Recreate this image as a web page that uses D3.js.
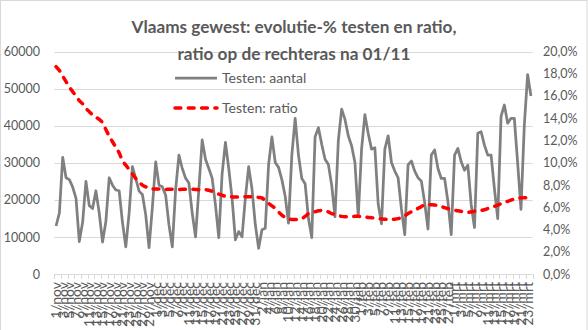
<!DOCTYPE html>
<html>
<head>
<meta charset="utf-8">
<script src="https://cdn.jsdelivr.net/npm/d3@7"></script>
<style>
  html, body { margin: 0; padding: 0; background: #fff; }
  svg { display: block; font-family: Lato, "Open Sans", sans-serif; }
</style>
</head>
<body>
<svg id="chart" width="588" height="330"></svg>
<script>
// Daily test counts for the Flemish region (left axis) and the positivity ratio in % (right axis)
const monthNames = ["jan", "feb", "mrt", "apr", "mei", "jun", "jul", "aug", "sep", "okt", "nov", "dec"];
const firstDay = new Date(2020, 10, 1);
const dayAfterLast = new Date(2021, 2, 25);

const testCounts = [
  13000, 16500, 31500, 26000, 25500, 23500, 20500, 8800, 14000, 25000,
  18500, 17700, 22500, 16500, 8700, 14200, 26000, 24000, 22700, 22500,
  14000, 7400, 16500, 29000, 25800, 22400, 21500, 16000, 7200, 18000,
  30300, 24000, 23600, 21300, 13300, 7400, 22700, 32100, 28500, 25900,
  24600, 16500, 10100, 22900, 36200, 31000, 28500, 25900, 18700, 9900,
  27000, 35500, 28500, 20500, 9300, 11500, 10100, 20500, 29000, 23000,
  13400, 7000, 12000, 12400, 29500, 37000, 30100, 28800, 25500, 21000,
  13800, 32100, 42000, 32100, 25800, 24400, 15000, 9900, 37000, 39500,
  35000, 31000, 29600, 24000, 15500, 36000, 44500, 41700, 37300, 34600,
  30100, 15500, 33700, 43000, 37900, 33700, 34100, 19000, 13600, 33700,
  37300, 30100, 27800, 26000, 17600, 10700, 29500, 30500, 27800, 26000,
  25100, 19300, 12200, 32100, 33500, 28500, 25800, 25800, 19600, 10700,
  32100, 33900, 30300, 28000, 29400, 18800, 12600, 38000, 38400, 34800,
  32100, 32100, 23100, 15000, 42500, 45600, 40700, 42000, 42000, 30000,
  17500, 40000, 53800, 48000
];

const ratioPct = [
  18.64, 18.3, 17.8, 17.3, 16.8, 16.4, 16.0, 15.6, 15.3, 14.9,
  14.6, 14.3, 14.1, 13.9, 13.6, 13.0, 12.4, 11.9, 11.4, 10.9,
  10.2, 9.8, 9.4, 9.0, 8.6, 8.3, 8.0, 7.85, 7.7, 7.65,
  7.65, 7.66, 7.64, 7.62, 7.63, 7.63, 7.6, 7.62, 7.63, 7.63,
  7.64, 7.63, 7.62, 7.6, 7.6, 7.6, 7.55, 7.45, 7.3, 7.2,
  7.1, 7.0, 6.97, 6.95, 6.95, 6.95, 6.95, 6.96, 6.97, 6.97,
  6.95, 6.9, 6.85, 6.6, 6.37, 6.15, 5.92, 5.6, 5.32, 5.1,
  4.96, 4.93, 4.92, 4.95, 5.0, 5.2, 5.45, 5.55, 5.62, 5.7,
  5.74, 5.7, 5.6, 5.45, 5.38, 5.28, 5.2, 5.17, 5.17, 5.18,
  5.2, 5.2, 5.18, 5.15, 5.1, 5.08, 5.04, 5.0, 4.96, 4.94,
  4.93, 4.93, 4.95, 5.0, 5.1, 5.25, 5.45, 5.62, 5.75, 5.92,
  6.08, 6.22, 6.25, 6.24, 6.22, 6.18, 6.1, 5.98, 5.9, 5.8,
  5.75, 5.71, 5.65, 5.6, 5.56, 5.6, 5.65, 5.7, 5.74, 5.8,
  5.9, 5.98, 6.1, 6.2, 6.35, 6.46, 6.55, 6.65, 6.76, 6.82,
  6.86, 6.88, 6.88, 6.9
];

const leftTicks = [0, 10000, 20000, 30000, 40000, 50000, 60000];
const rightTicks = [0, 2, 4, 6, 8, 10, 12, 14, 16, 18, 20];
const titleLines = ["Vlaams gewest: evolutie-% testen en ratio,", "ratio op de rechteras na 01/11"];
const seriesNames = ["Testen: aantal", "Testen: ratio"];

// Category labels "d/mmm"
const categories = d3.timeDay.range(firstDay, dayAfterLast)
  .map(d => d.getDate() + "/" + monthNames[d.getMonth()]);

const svg = d3.select("#chart");
const textColor = "#595959";
const gridColor = "#d9d9d9";

// chart border
svg.append("rect")
  .attr("x", 0.5).attr("y", 0.5).attr("width", 586.5).attr("height", 340)
  .attr("fill", "#fff").attr("stroke", gridColor);

const plot = { left: 54.4, right: 532.6, top: 51.5, bottom: 274.3 };

const x = d3.scaleBand().domain(categories).range([plot.left, plot.right]).padding(0);
const cx = c => x(c) + x.bandwidth() / 2;
const yL = d3.scaleLinear().domain([0, 60000]).range([plot.bottom, plot.top]);
const yR = d3.scaleLinear().domain([0, 20]).range([plot.bottom, plot.top]);

// gridlines
svg.append("g").selectAll("line").data(leftTicks.filter(v => v > 0)).join("line")
  .attr("x1", plot.left).attr("x2", plot.right)
  .attr("y1", d => Math.round(yL(d)) + 0.5).attr("y2", d => Math.round(yL(d)) + 0.5)
  .attr("stroke", gridColor).attr("stroke-width", 1);

// title
const title = svg.append("g").attr("fill", textColor).attr("font-weight", "bold").attr("text-anchor", "middle");
title.selectAll("text").data(titleLines).join("text")
  .attr("x", 294).attr("y", (d, i) => 33 + i * 27)
  .attr("font-size", 16.5)
  .text(d => d);
// scale the title so its first line spans the intended width
{
  const w = title.select("text").node().getComputedTextLength();
  title.selectAll("text").attr("font-size", 16.5 * 325 / w);
}

// left axis labels
svg.append("g").selectAll("text").data(leftTicks).join("text")
  .attr("x", 40).attr("y", d => yL(d)).attr("dy", "0.35em")
  .attr("text-anchor", "end").attr("fill", textColor).attr("font-size", 12.5)
  .text(d => String(d));

// right axis labels
svg.append("g").selectAll("text").data(rightTicks).join("text")
  .attr("x", 543).attr("y", d => yR(d)).attr("dy", "0.35em")
  .attr("text-anchor", "start").attr("fill", textColor).attr("font-size", 12.5)
  .text(d => d.toFixed(1).replace(".", ",") + "%");

// x axis line, ticks (every second category) and labels
const xAxis = svg.append("g");
xAxis.append("line")
  .attr("x1", plot.left).attr("x2", plot.right)
  .attr("y1", Math.round(plot.bottom) + 0.5).attr("y2", Math.round(plot.bottom) + 0.5)
  .attr("stroke", gridColor);
const tickCats = categories.filter((c, i) => i % 2 === 0);
const tickXs = tickCats.map(c => x(c)).concat([plot.right]);
xAxis.selectAll("line.tick").data(tickXs).join("line").attr("class", "tick")
  .attr("x1", d => Math.round(d) + 0.5).attr("x2", d => Math.round(d) + 0.5)
  .attr("y1", Math.round(plot.bottom)).attr("y2", Math.round(plot.bottom) + 5)
  .attr("stroke", gridColor);
xAxis.selectAll("text").data(tickCats).join("text")
  .attr("transform", d => `translate(${cx(d)},282) rotate(-90)`)
  .attr("dy", "0.35em")
  .attr("text-anchor", "end").attr("fill", textColor).attr("font-size", 14)
  .text(d => d);

// test count line
const countLine = d3.line().x((d, i) => cx(categories[i])).y(d => yL(d));
svg.append("path").datum(testCounts)
  .attr("d", countLine)
  .attr("fill", "none").attr("stroke", "#808080").attr("stroke-width", 2.75)
  .attr("stroke-linejoin", "round");

// ratio line (secondary axis)
const ratioLine = d3.line().x((d, i) => cx(categories[i])).y(d => yR(d)).curve(d3.curveMonotoneX);
svg.append("path").datum(ratioPct)
  .attr("d", ratioLine)
  .attr("fill", "none").attr("stroke", "#ff0000").attr("stroke-width", 3.5)
  .attr("stroke-dasharray", "5.8,7.5").attr("stroke-linecap", "round");

// legend
const legend = svg.append("g");
const legendRows = [
  { name: seriesNames[0], y: 78, stroke: "#808080", width: 2.75, dash: null, cap: "butt" },
  { name: seriesNames[1], y: 108, stroke: "#ff0000", width: 3.5, dash: "5.8,7.5", cap: "round" }
];
legendRows.forEach(r => {
  legend.append("line")
    .attr("x1", 175).attr("x2", 217).attr("y1", r.y).attr("y2", r.y)
    .attr("stroke", r.stroke).attr("stroke-width", r.width)
    .attr("stroke-dasharray", r.dash).attr("stroke-linecap", r.cap);
  legend.append("text")
    .attr("x", 222).attr("y", r.y).attr("dy", "0.35em")
    .attr("fill", textColor).attr("font-size", 14)
    .text(r.name);
});
</script>
</body>
</html>
